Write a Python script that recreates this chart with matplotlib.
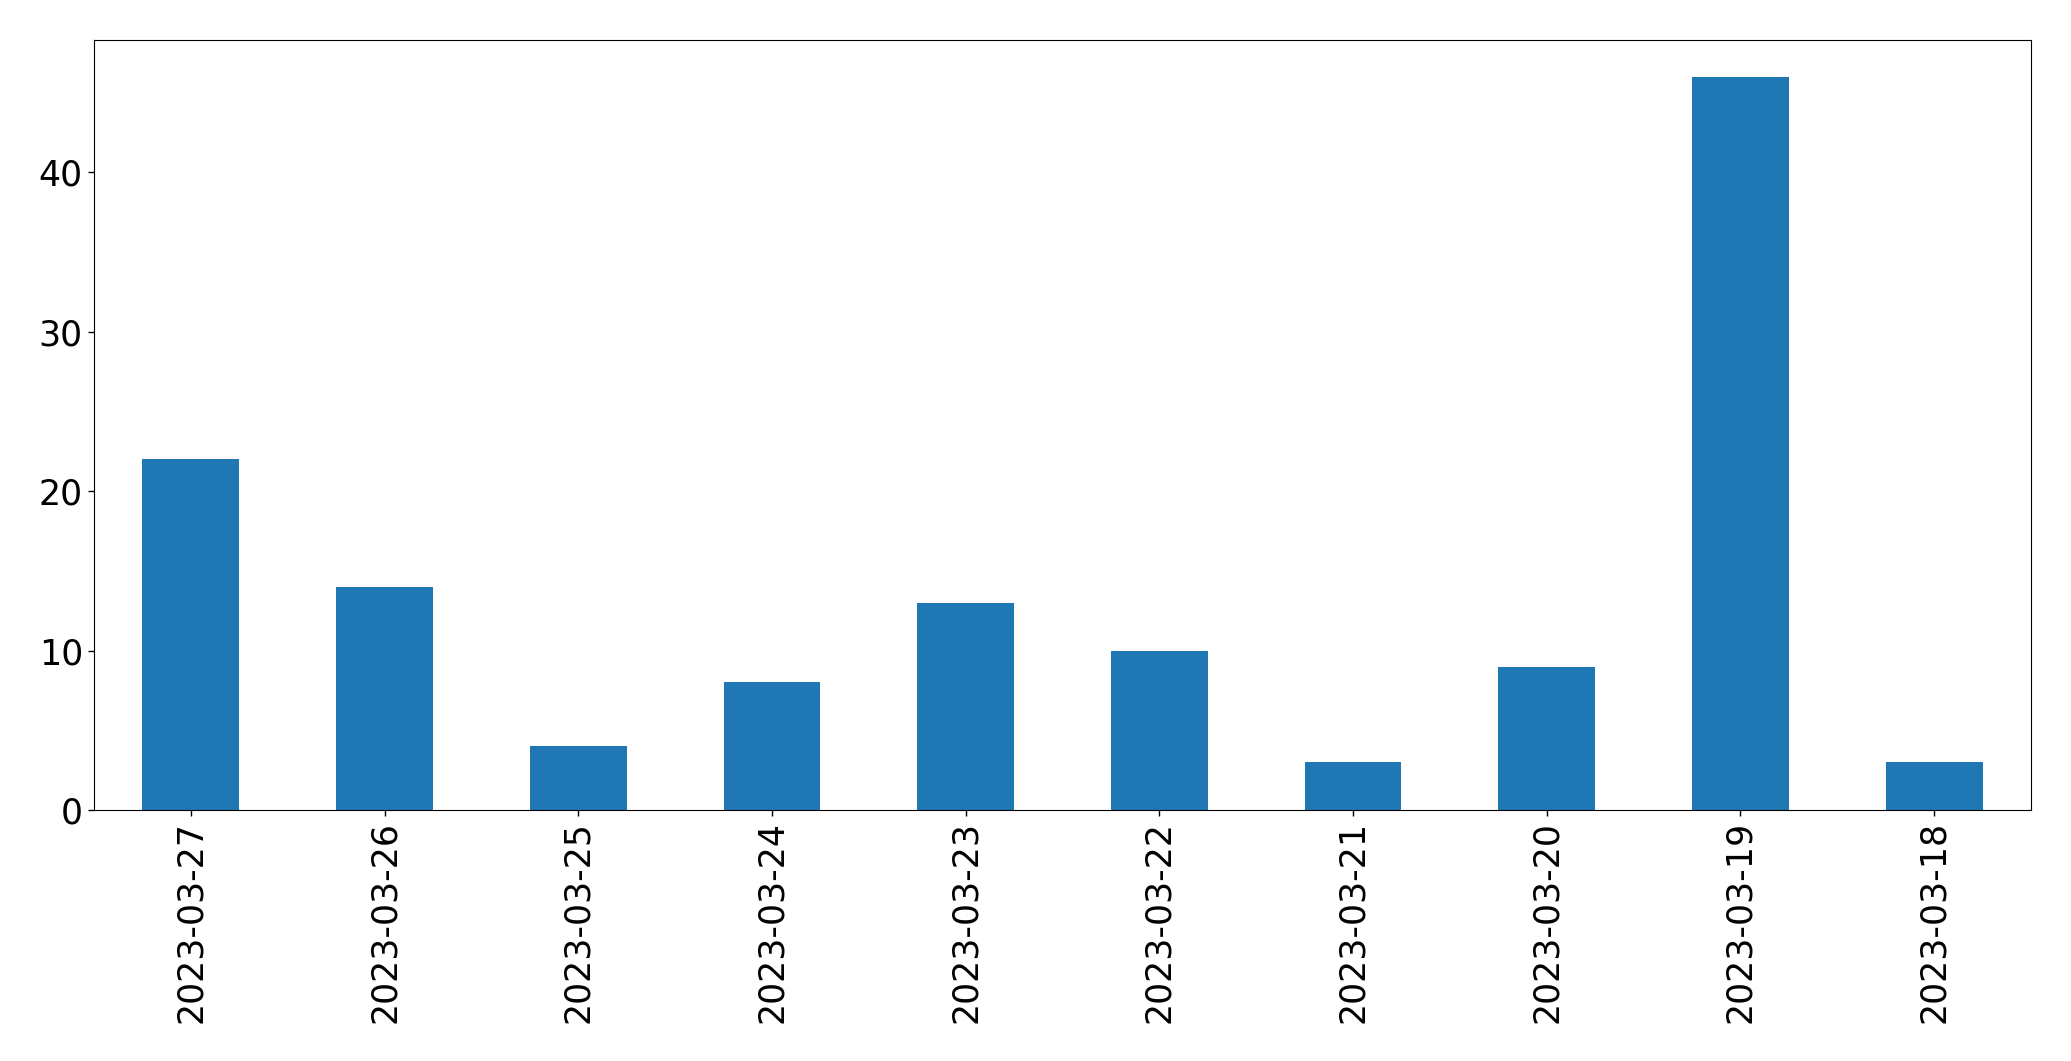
import matplotlib
matplotlib.use("Agg")
import matplotlib.pyplot as plt
import numpy as np

dates = ["2023-03-27", "2023-03-26", "2023-03-25", "2023-03-24", "2023-03-23",
         "2023-03-22", "2023-03-21", "2023-03-20", "2023-03-19", "2023-03-18"]
counts = [22, 14, 4, 8, 13, 10, 3, 9, 46, 3]

fig = plt.figure(figsize=(20.71, 10.61), dpi=100)
ax = fig.add_axes([94/2071, 1 - 810/1061, (2031-94)/2071, (810-40)/1061])
x = np.arange(len(dates))
ax.bar(x, counts, width=0.5, color="#1f77b4")
ax.set_xlim(-0.5, len(dates) - 0.5)
ax.set_ylim(0, 48.3)
ax.set_xticks(x)
ax.set_xticklabels(dates, rotation=90)
ax.set_yticks([0, 10, 20, 30, 40])
ax.tick_params(axis="both", labelsize=25, length=4.5, width=1)
fig.savefig("out.png", dpi=100)
